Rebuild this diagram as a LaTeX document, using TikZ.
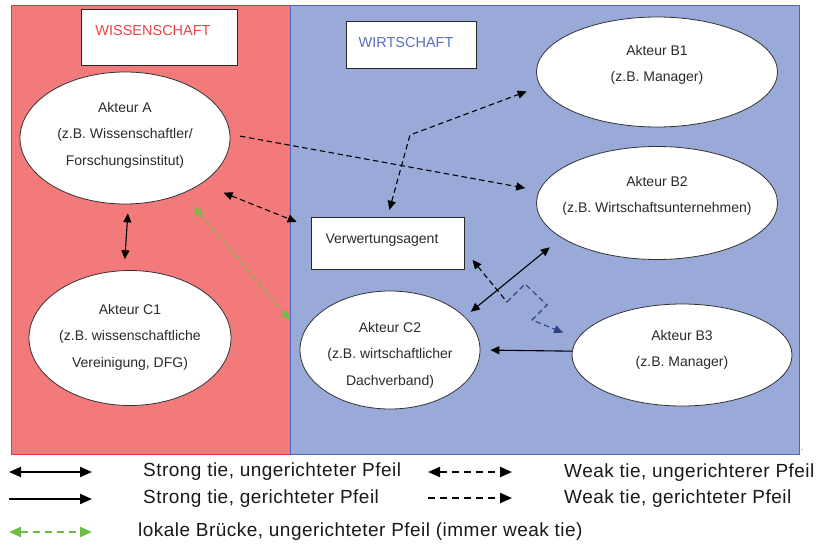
\documentclass[tikz,border=0pt]{standalone}
\usepackage{fontspec}
\setmainfont{Liberation Sans}
\usetikzlibrary{arrows.meta,shapes.geometric}
\definecolor{wissfill}{HTML}{F27A7A}
\definecolor{wissline}{HTML}{E23A3A}
\definecolor{wirtfill}{HTML}{99A9D8}
\definecolor{wirtline}{HTML}{4C66C2}
\definecolor{wisshead}{HTML}{E8454A}
\definecolor{wirthead}{HTML}{5A6FC0}
\definecolor{bridgegreen}{HTML}{6DBE45}
\definecolor{navy}{HTML}{2E4288}
\definecolor{txtgray}{HTML}{2B2B2B}
\begin{document}
\begin{tikzpicture}[x=1pt,y=-1pt,
  actor/.style={ellipse,draw=black!80,line width=0.8pt,fill=white,inner sep=0pt},
  boxnode/.style={rectangle,draw=black!85,line width=0.8pt,fill=white,inner sep=0pt},
  lbl/.style={font=\fontsize{14}{26.5}\selectfont,text=txtgray,align=center,inner sep=0pt},
  head/.style={font=\fontsize{14.5}{17}\selectfont,inner sep=0pt},
  legtext/.style={font=\fontsize{19}{22}\selectfont\addfontfeature{LetterSpace=2.5},text=black!90,anchor=west,inner sep=0pt},
  strong/.style={line width=1.1pt,draw=black,>={Triangle[length=9pt,width=8pt]}},
  weak/.style={line width=1.1pt,dash pattern=on 5.5pt off 3.5pt,>={Triangle[length=9pt,width=8pt]}},
  bridge/.style={weak,color=bridgegreen},
  legstrong/.style={line width=2pt,>={Triangle[length=12pt,width=10pt]}},
  legweak/.style={line width=2pt,dash pattern=on 7pt off 5pt,>={Triangle[length=12pt,width=10pt]}}]

\useasboundingbox (0,0) rectangle (819,546);

% the two domains
\filldraw[fill=wissfill,draw=wissline,line width=0.8pt] (11,5) rectangle (290,454);
\filldraw[fill=wirtfill,draw=wirtline,line width=0.8pt] (290,5) rectangle (799,454);
\node[font=\fontsize{9}{10}\selectfont,text=black!60,inner sep=0pt] (dot) at (802,450) {.};

% domain headings
\node[boxnode,minimum width=156pt,minimum height=56pt] (wiss) at (159,37) {};
\node[head,text=wisshead] (wisst) at (153,31) {WISSENSCHAFT};
\node[boxnode,minimum width=130pt,minimum height=47pt] (wirt) at (411,44.5) {};
\node[head,text=wirthead] (wirtt) at (406,43) {WIRTSCHAFT};

% actors
\node[actor,minimum width=210pt,minimum height=132pt] (A) at (125,138) {};
\node[lbl] (At) at (125,135) {Akteur A\\(z.B. Wissenschaftler/\\Forschungsinstitut)};
\node[actor,minimum width=202pt,minimum height=135pt] (C1) at (130,338) {};
\node[lbl] (C1t) at (130,337) {Akteur C1\\(z.B. wissenschaftliche\\Vereinigung, DFG)};
\node[actor,minimum width=180pt,minimum height=118pt] (C2) at (390,350) {};
\node[lbl] (C2t) at (390,355) {Akteur C2\\(z.B. wirtschaftlicher\\Dachverband)};
\node[actor,minimum width=241pt,minimum height=110pt] (B1) at (657,72) {};
\node[lbl] (B1t) at (657,65) {Akteur B1\\(z.B. Manager)};
\node[actor,minimum width=241pt,minimum height=113pt] (B2) at (657,203) {};
\node[lbl] (B2t) at (657,196) {Akteur B2\\(z.B. Wirtschaftsunternehmen)};
\node[actor,minimum width=220pt,minimum height=102pt] (B3) at (682,355) {};
\node[lbl] (B3t) at (682,350) {Akteur B3\\(z.B. Manager)};
\node[boxnode,minimum width=153pt,minimum height=52pt] (ag) at (387.5,243) {};
\node[lbl] (agt) at (382,240) {Verwertungsagent};

% bends of the elbow connectors
\coordinate (k1) at (410,135);
\coordinate (k2) at (507,302);
\coordinate (k3) at (525,284);
\coordinate (k4) at (547,305);
\coordinate (k5) at (532,320);

% ties
\draw[strong,<->,shorten <=9pt,shorten >=11pt] (A.-87) -- (C1.95);
\draw[weak,->,shorten <=10pt,shorten >=14pt] (A.2) -- (B2.174);
\draw[weak,<->,shorten <=24pt,shorten >=15pt] (A.-31.5) -- ([yshift=15.5pt]ag.west);
\draw[weak,<->,shorten <=7pt,shorten >=14.5pt] (ag.north) -- (k1) -- (B1.187.5);
\draw[bridge,<->,shorten <=17.5pt,shorten >=19.5pt] (A.-44.5) -- (C2.170);
\draw[weak,<-,shorten <=12.8pt] ([yshift=-7pt]ag.east) -- (k2);
\draw[weak,color=navy,->,shorten >=15.5pt] (k2) -- (k3) -- (k4) -- (k5) -- (B3.171);
\draw[strong,<->,shorten <=7.7pt,shorten >=15pt] (C2.24) -- (B2.200);
\draw[strong,->,shorten >=10pt] (B3.178) -- (C2.east);

% legend
\coordinate (l1a) at (9,472);   \coordinate (l1b) at (92,472);
\coordinate (l2a) at (9,499);   \coordinate (l2b) at (92,499);
\coordinate (l3a) at (9,532);   \coordinate (l3b) at (92,532);
\coordinate (l4a) at (428,472); \coordinate (l4b) at (512,472);
\coordinate (l5a) at (428,498); \coordinate (l5b) at (512,498);
\draw[legstrong,<->] (l1a) -- (l1b);
\draw[legstrong,->] (l2a) -- (l2b);
\draw[legweak,color=bridgegreen,<->] (l3a) -- (l3b);
\draw[legweak,<->] (l4a) -- (l4b);
\draw[legweak,->] (l5a) -- (l5b);
\node[legtext] (t1) at (143,472) {Strong tie, ungerichteter Pfeil};
\node[legtext] (t2) at (143,499) {Strong tie, gerichteter Pfeil};
\node[legtext] (t3) at (138,532) {lokale Brücke, ungerichteter Pfeil (immer weak tie)};
\node[legtext] (t4) at (564,473) {Weak tie, ungerichterer Pfeil};
\node[legtext] (t5) at (564,499) {Weak tie, gerichteter Pfeil};
\end{tikzpicture}
\end{document}
